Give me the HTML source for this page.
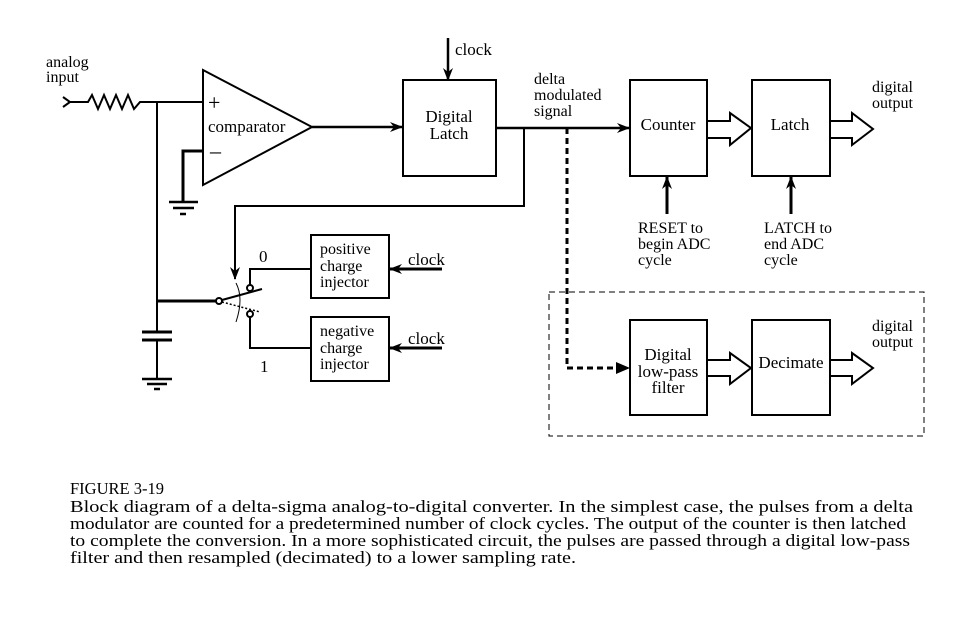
<!DOCTYPE html>
<html><head><meta charset="utf-8"><style>
html,body{margin:0;padding:0;background:#fff;}
svg text{font-family:"Liberation Serif",serif;fill:#000;}
</style></head><body>
<svg width="960" height="632" viewBox="0 0 960 632" xmlns="http://www.w3.org/2000/svg">
<defs>
<marker id="ah" markerWidth="13" markerHeight="10" refX="12" refY="5" orient="auto" markerUnits="userSpaceOnUse">
<path d="M0,0 L13,5 L0,10 L4,5 Z" fill="#000" stroke="none"/></marker>
</defs>
<g stroke="#000" fill="none" stroke-width="2">
<path d="M63,97 L70,102 L63,107" stroke-width="2"/>
<path d="M68,102 L88,102 L92,95 L98,109 L104,95 L110,109 L116,95 L122,109 L128,95 L134,109 L140,102 L203,102" stroke-width="2"/>
<path d="M157,102 V332"/>
<path d="M142,332 H172 M142,340 H172" stroke-width="3"/>
<path d="M157,340 V378"/>
<path d="M142,379 H172 M147,384 H167" stroke-width="2.5"/>
<path d="M154,389 H160" stroke-width="2.5"/>
<path d="M203,70 L312,127 L203,185 Z"/>
<path d="M203,151 H183 V202" stroke-width="3"/>
<path d="M169,202 H198 M173,208 H194" stroke-width="2.5"/>
<path d="M180,214 H186" stroke-width="2.5"/>
<path d="M312,127 H402" stroke-width="2.5" marker-end="url(#ah)"/>
<rect x="403" y="80" width="93" height="96"/>
<path d="M448,38 V80" stroke-width="2.5" marker-end="url(#ah)"/>
<path d="M496,128 H629" stroke-width="2.5" marker-end="url(#ah)"/>
<path d="M524,128 V206 H235 V279" stroke-width="2" marker-end="url(#ah)"/>
<path d="M157,301 H217" stroke-width="3"/>
<circle cx="219" cy="301" r="3" fill="#fff"/>
<circle cx="250" cy="288" r="3" fill="#fff"/>
<circle cx="250" cy="314" r="3" fill="#fff"/>
<path d="M222,300 L262,289"/>
<path d="M222,302 L260,312" stroke-dasharray="2,2" stroke-width="1.5"/>
<path d="M236,283 Q244,298 236,322" stroke-width="1"/>
<path d="M250,285 V269 H311"/>
<path d="M250,317 V348 H311"/>
<rect x="311" y="235" width="78" height="63"/>
<rect x="311" y="317" width="78" height="64"/>
<path d="M442,269 H390" stroke-width="3" marker-end="url(#ah)"/>
<path d="M442,348 H390" stroke-width="3" marker-end="url(#ah)"/>
<rect x="630" y="80" width="77" height="96"/>
<rect x="752" y="80" width="78" height="96"/>
<path d="M707,121 H730 V113 L751,128 L730,145 V138 H707"/>
<path d="M830,121 H852 V113 L873,129 L852,145 V138 H830"/>
<path d="M667,214 V177" stroke-width="3" marker-end="url(#ah)"/>
<path d="M791,214 V177" stroke-width="3" marker-end="url(#ah)"/>
<rect x="549" y="292" width="375" height="144" stroke-width="1" stroke-dasharray="6,4"/>
<path d="M567,128 V368 H620" stroke-width="3" stroke-dasharray="6,4"/>
<path d="M616,362 L630,368 L616,374 Z" fill="#000" stroke="none"/>
<rect x="630" y="320" width="77" height="95"/>
<rect x="752" y="320" width="78" height="95"/>
<path d="M707,360 H730 V353 L751,368 L730,384 V376 H707"/>
<path d="M830,360 H852 V353 L873,368 L852,384 V376 H830"/>
</g>
<g font-size="17">
<text x="46" y="67" font-size="16">analog</text>
<text x="46" y="82" font-size="16">input</text>
<text x="208" y="132">comparator</text>
<text x="208" y="110" font-size="22" font-family="Liberation Sans">+</text>
<text x="210" y="158" font-size="22" font-family="Liberation Sans">–</text>
<text x="455" y="55">clock</text>
<text x="449" y="122" text-anchor="middle">Digital</text>
<text x="449" y="139" text-anchor="middle">Latch</text>
<text x="534" y="84" font-size="16">delta</text>
<text x="534" y="100" font-size="16">modulated</text>
<text x="534" y="116" font-size="16">signal</text>
<text x="668" y="130" text-anchor="middle">Counter</text>
<text x="790" y="130" text-anchor="middle">Latch</text>
<text x="872" y="92" font-size="16">digital</text>
<text x="872" y="108" font-size="16">output</text>
<text x="638" y="233" font-size="16">RESET to</text>
<text x="638" y="249" font-size="16">begin ADC</text>
<text x="638" y="265" font-size="16">cycle</text>
<text x="764" y="233" font-size="16">LATCH to</text>
<text x="764" y="249" font-size="16">end ADC</text>
<text x="764" y="265" font-size="16">cycle</text>
<text x="320" y="254" font-size="16">positive</text>
<text x="320" y="271" font-size="16">charge</text>
<text x="320" y="287" font-size="16">injector</text>
<text x="320" y="336" font-size="16">negative</text>
<text x="320" y="353" font-size="16">charge</text>
<text x="320" y="369" font-size="16">injector</text>
<text x="408" y="265">clock</text>
<text x="408" y="344">clock</text>
<text x="259" y="262">0</text>
<text x="260" y="372">1</text>
<text x="668" y="360" text-anchor="middle">Digital</text>
<text x="668" y="377" text-anchor="middle">low-pass</text>
<text x="668" y="393" text-anchor="middle">filter</text>
<text x="791" y="368" text-anchor="middle">Decimate</text>
<text x="872" y="331" font-size="16">digital</text>
<text x="872" y="347" font-size="16">output</text>
</g>
<g font-size="16.5">
<text x="70" y="494" textLength="94" lengthAdjust="spacingAndGlyphs">FIGURE 3-19</text>
<text x="70" y="512" textLength="843" lengthAdjust="spacingAndGlyphs">Block diagram of a delta-sigma analog-to-digital converter.  In the simplest case, the pulses from a delta</text>
<text x="70" y="529" textLength="836" lengthAdjust="spacingAndGlyphs">modulator are counted for a predetermined number of clock cycles.  The output of the counter is then latched</text>
<text x="70" y="546" textLength="840" lengthAdjust="spacingAndGlyphs">to complete the conversion.  In a more sophisticated circuit, the pulses are passed through a digital low-pass</text>
<text x="70" y="563" textLength="506" lengthAdjust="spacingAndGlyphs">filter and then resampled (decimated) to a lower sampling rate.</text>
</g>
</svg>
</body></html>
